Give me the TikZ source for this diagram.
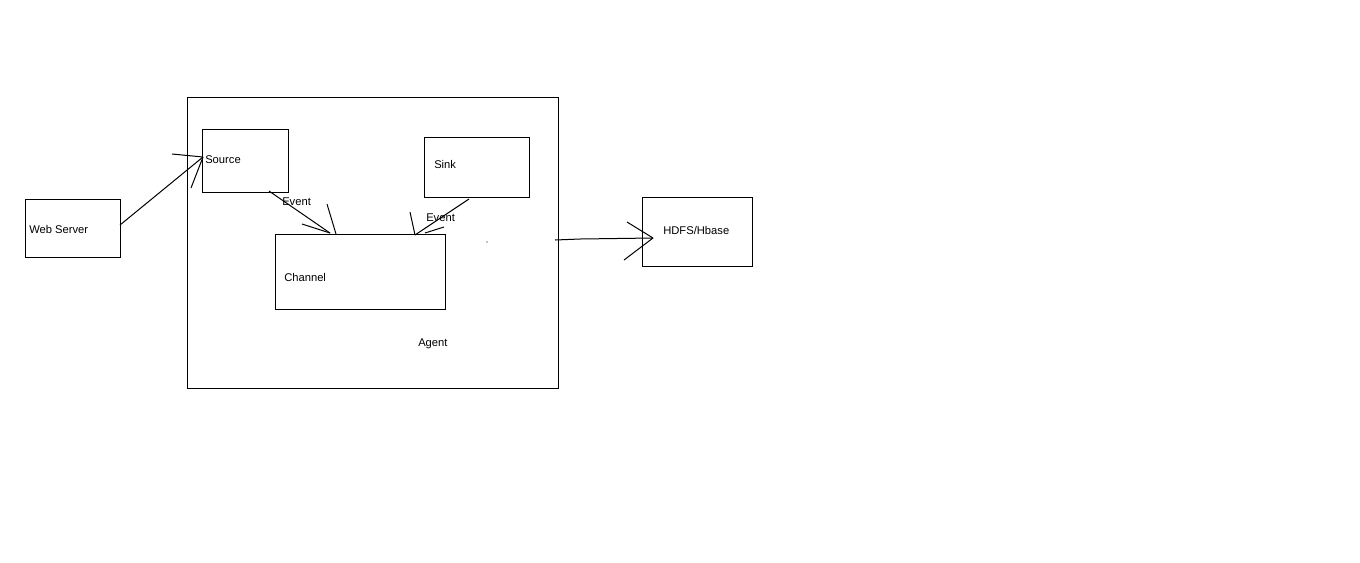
\documentclass[tikz,border=0pt]{standalone}
\usepackage{fontspec}
\setmainfont{Liberation Sans}
\begin{document}
\begin{tikzpicture}[x=0.75pt,y=-0.75pt,
  box/.style={draw=black,line width=0.75pt,inner sep=0pt,fill=white},
  lbl/.style={anchor=west,inner sep=0pt,font=\fontsize{8.4pt}{10pt}\selectfont},
  con/.style={draw=black,line width=0.75pt}]
\useasboundingbox[fill=white] (0,0) rectangle (1360,562);
% boxes
\node[box,minimum width=278.25pt,minimum height=218.25pt] (agent) at (372.5,242.5) {};
\node[box,minimum width=71.25pt,minimum height=43.5pt] (web) at (72.5,228) {};
\node[box,minimum width=64.5pt,minimum height=47.25pt] (source) at (245,160.5) {};
\node[box,minimum width=78.75pt,minimum height=45pt] (sink) at (476.5,167) {};
\node[box,minimum width=127.5pt,minimum height=56.25pt] (channel) at (360,271.5) {};
\node[box,minimum width=82.5pt,minimum height=51.75pt] (hdfs) at (697,231.5) {};
% labels
\node[lbl] (tweb) at (29,229) {Web Server};
\node[lbl] (tsource) at (205,160) {Source};
\node[lbl] (tsink) at (434,164) {Sink};
\node[lbl] (tchannel) at (284,277) {Channel};
\node[lbl] (thdfs) at (663,230) {HDFS/Hbase};
\node[lbl] (tagent) at (418,344) {Agent};
\node[lbl] (tev1) at (282,202) {Event};
\node[lbl] (tev2) at (426,218) {Event};
\fill (487,242) circle[radius=0.5pt];
% coordinates of hand-drawn connectors
\coordinate (w1) at (120,225);
\coordinate (s1) at (203,157);
\coordinate (h1a) at (172,154);
\coordinate (h1b) at (191,188);
\coordinate (s2) at (269,191);
\coordinate (c2) at (330,233);
\coordinate (h2a) at (302,224);
\coordinate (h2b) at (327,204);
\coordinate (h2c) at (336,234);
\coordinate (k3) at (469,199);
\coordinate (c3) at (415,235);
\coordinate (h3a) at (410,212);
\coordinate (h3b) at (444,227);
\coordinate (h3c) at (425,233);
\coordinate (a4) at (555,240);
\coordinate (m4) at (580,239);
\coordinate (d4) at (653,238);
\coordinate (h4a) at (627,222);
\coordinate (h4b) at (624,260);
% connectors
\draw[con] (w1) -- (s1);
\draw[con] (h1a) -- (s1);
\draw[con] (h1b) -- (s1);
\draw[con] (s2) -- (c2);
\draw[con] (h2a) -- (c2);
\draw[con] (h2b) -- (h2c);
\draw[con] (k3) -- (c3);
\draw[con] (h3a) -- (c3);
\draw[con] (h3b) -- (h3c);
\draw[con] (a4) -- (m4) -- (d4);
\draw[con] (h4a) -- (d4);
\draw[con] (h4b) -- (d4);
\end{tikzpicture}
\end{document}
